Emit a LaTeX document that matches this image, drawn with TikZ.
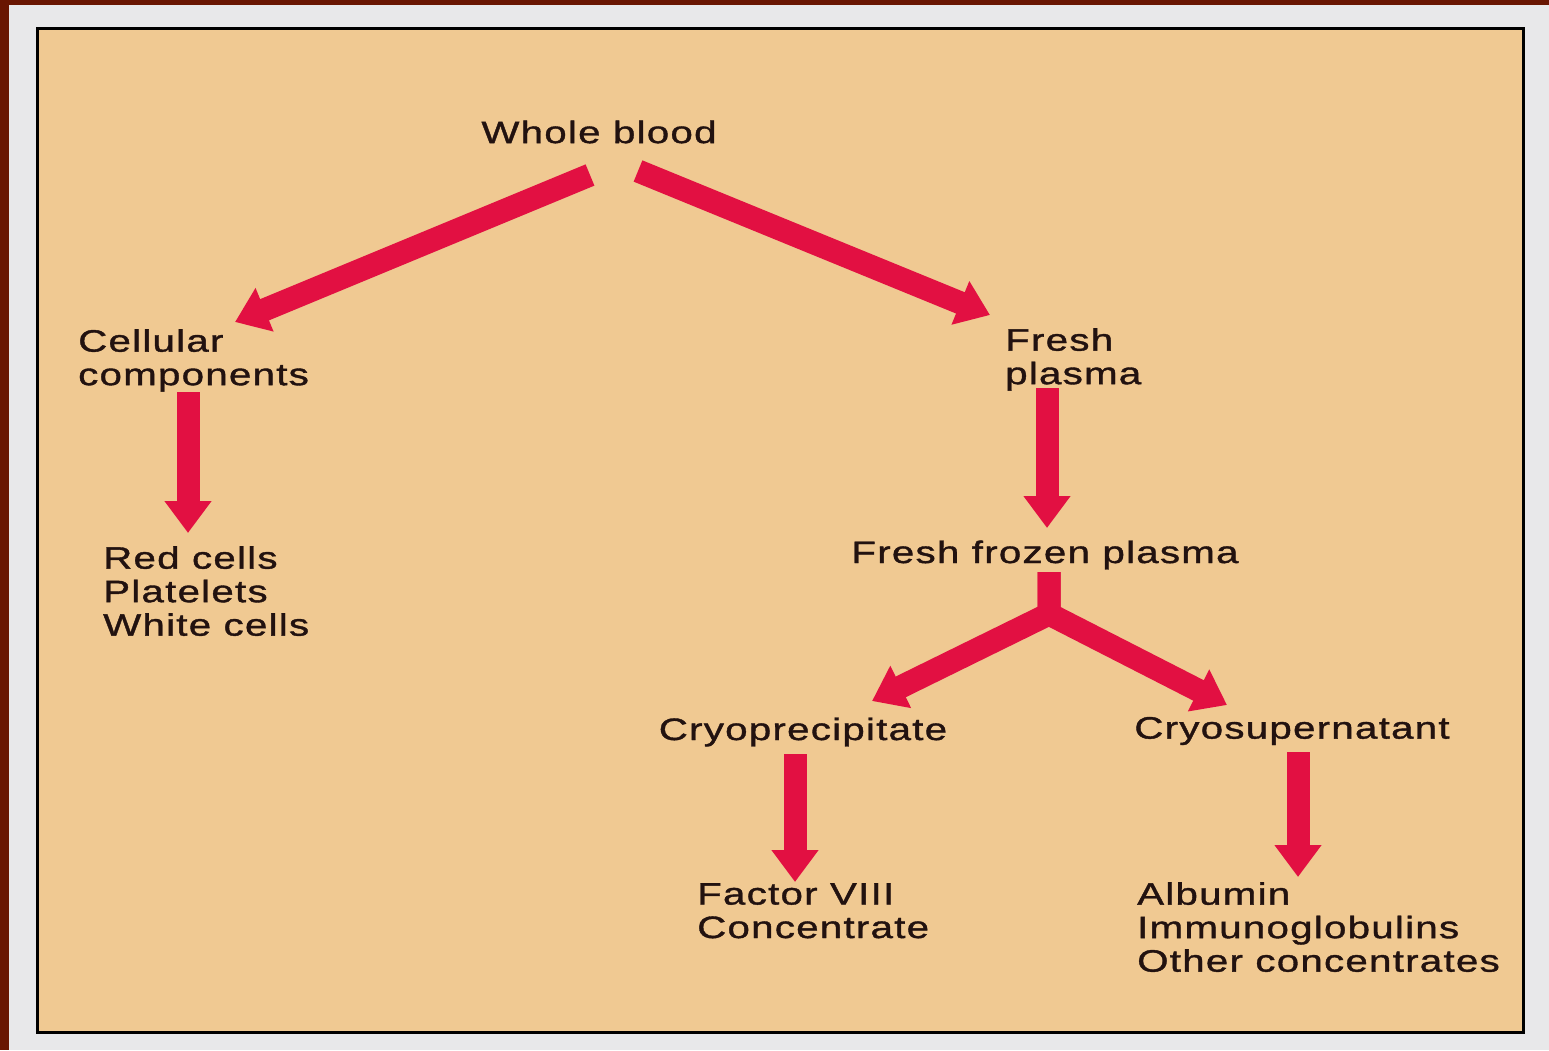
\documentclass[tikz,border=0pt]{standalone}
\usepackage{fontspec}
\setmainfont{Liberation Sans}[FakeStretch=1.3,LetterSpace=4,FakeBold=1.2]
\usetikzlibrary{arrows.meta}
\definecolor{tan}{RGB}{240,201,146}
\definecolor{crim}{RGB}{226,16,66}
\definecolor{maroon}{RGB}{105,22,2}
\definecolor{margin}{RGB}{232,232,234}
\definecolor{ink}{RGB}{34,18,16}
\tikzset{
  lbl/.style={inner sep=0pt, text=ink, align=left, font=\fontsize{31}{33.5}\selectfont},
  redarrow/.style={draw=crim, line width=23pt, line cap=butt,
    -{Triangle[length=32pt,width=45pt]}},
}
\begin{document}
\begin{tikzpicture}[x=1pt,y=-1pt]
\useasboundingbox (0,0) rectangle (1549,1050);
\fill[margin] (0,0) rectangle (1549,1050);
\fill[maroon] (0,0) rectangle (1549,5);
\fill[maroon] (0,0) rectangle (9,1050);
\draw[fill=tan, line width=3pt, draw=black] (37,28) rectangle (1523,1032);

\node[lbl] (wb) at (599,132) {Whole blood};
\node[lbl, anchor=north west] (cc) at (78,329) {Cellular\\components};
\node[lbl, anchor=north west] (fp) at (1005,328) {Fresh\\plasma};
\node[lbl, anchor=north west] (rc) at (103,546) {Red cells\\Platelets\\White cells};
\node[lbl] (ffp) at (1045,555) {Fresh frozen plasma};
\node[lbl] (cryo) at (803,732) {Cryoprecipitate};
\node[lbl] (sup) at (1292,731) {Cryosupernatant};
\node[lbl, anchor=north west] (f8) at (697,883) {Factor VIII\\Concentrate};
\node[lbl, anchor=north west] (alb) at (1137,882) {Albumin\\Immunoglobulins\\Other concentrates};

\coordinate (a1s) at (590,175);  \coordinate (a1e) at (235,322);
\coordinate (a2s) at (638,171);  \coordinate (a2e) at (990,315);
\coordinate (a3s) at (188,392);  \coordinate (a3e) at (188,533);
\coordinate (a4s) at (1047,388); \coordinate (a4e) at (1047,528);
\coordinate (a5s) at (1049,572); \coordinate (a5j) at (1049,614);
\coordinate (a5l) at (872,701);  \coordinate (a5r) at (1227,705);
\coordinate (a6s) at (795,754);  \coordinate (a6e) at (795,882);
\coordinate (a7s) at (1298,752); \coordinate (a7e) at (1298,877);

\draw[redarrow] (a1s) -- (a1e);
\draw[redarrow] (a2s) -- (a2e);
\draw[redarrow] (a3s) -- (a3e);
\draw[redarrow] (a4s) -- (a4e);
\draw[redarrow, line join=miter] (a5s) -- (a5j) -- (a5l);
\draw[redarrow, line join=miter] (a5s) -- (a5j) -- (a5r);
\draw[redarrow] (a6s) -- (a6e);
\draw[redarrow] (a7s) -- (a7e);
\end{tikzpicture}
\end{document}
